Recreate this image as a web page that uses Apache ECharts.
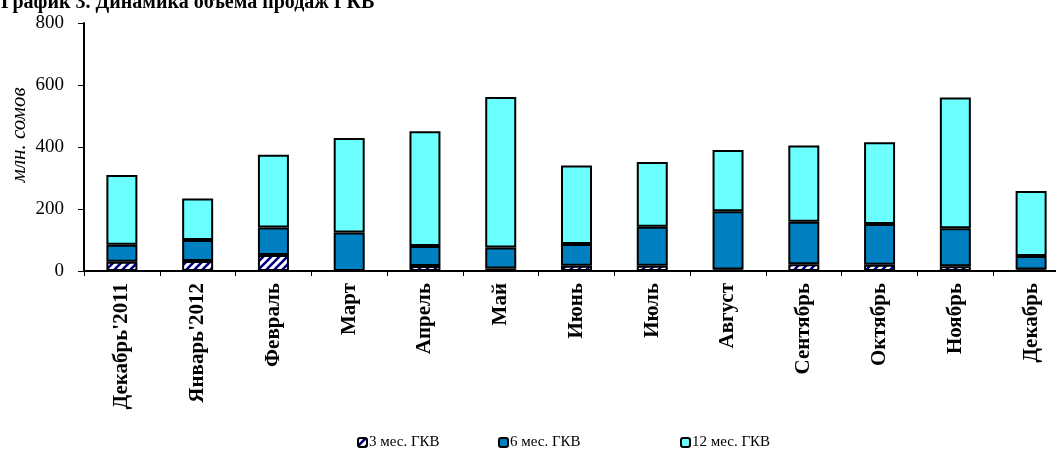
<!DOCTYPE html>
<html>
<head>
<meta charset="utf-8">
<script src="https://cdn.jsdelivr.net/npm/echarts@6/dist/echarts.min.js"></script>
<style>
  html, body { margin: 0; padding: 0; background: #fff; overflow: hidden; }
  #chart { width: 1075px; height: 449px; }
</style>
</head>
<body>
<div id="chart"></div>
<script>
'use strict';

// категории (месяцы)
var months = ['Декабрь\'2011', 'Январь\'2012', 'Февраль', 'Март', 'Апрель', 'Май',
    'Июнь', 'Июль', 'Август', 'Сентябрь', 'Октябрь', 'Ноябрь', 'Декабрь'];

// объемы продаж, млн. сомов
var gkv3 = [30, 32, 52, 0, 16, 8, 17, 17, 5, 22, 20, 15, 5];
var gkv6 = [55, 68, 88, 124, 65, 68, 70, 126, 188, 137, 132, 123, 43];
var gkv12 = [225, 134, 235, 305, 370, 485, 253, 209, 197, 246, 263, 422, 210];

var yTicks = [0, 200, 400, 600, 800];

// штриховка для 3 мес.
function hatch() {
    var c = document.createElement('canvas');
    c.width = 8;
    c.height = 8;
    var ctx = c.getContext('2d');
    ctx.fillStyle = '#ffffff';
    ctx.fillRect(0, 0, 8, 8);
    ctx.strokeStyle = '#000080';
    ctx.lineWidth = 2.6;
    ctx.beginPath();
    ctx.moveTo(-2, 10); ctx.lineTo(10, -2);
    ctx.moveTo(-6, 6); ctx.lineTo(6, -6);
    ctx.moveTo(2, 14); ctx.lineTo(14, 2);
    ctx.stroke();
    return c;
}

var font = '"Liberation Serif", "Times New Roman", serif';
var chart = echarts.init(document.getElementById('chart'));

var barStyle = function (color) {
    return { color: color, borderColor: '#000', borderWidth: 2 };
};

var legendBase = {
    orient: 'horizontal',
    top: 430,
    itemWidth: 9,
    itemHeight: 9,
    itemGap: 2,
    textStyle: { fontFamily: font, fontSize: 15, color: '#000', padding: [0, 0, 0, -3] }
};

var option = {
    animation: false,
    title: {
        text: 'График 3. Динамика объема продаж ГКВ',
        left: -4,
        top: -12,
        textStyle: { fontFamily: font, fontSize: 20, fontWeight: 'bold', color: '#000' }
    },
    grid: { left: 84, top: 23, width: 985, height: 248 },
    legend: [
        Object.assign({}, legendBase, { left: 352, data: ['3 мес. ГКВ'] }),
        Object.assign({}, legendBase, { left: 493, data: ['6 мес. ГКВ'] }),
        Object.assign({}, legendBase, { left: 675, data: ['12 мес. ГКВ'] })
    ],
    graphic: [{
        type: 'text',
        x: 19,
        y: 135,
        rotation: Math.PI / 2,
        style: {
            text: 'млн. сомов',
            fontFamily: font,
            fontStyle: 'italic',
            fontSize: 21,
            fill: '#000',
            align: 'center',
            verticalAlign: 'middle'
        }
    }],
    xAxis: {
        type: 'category',
        data: months,
        axisLine: { lineStyle: { color: '#000', width: 2 } },
        axisTick: { show: true, length: 5, lineStyle: { color: '#000' } },
        axisLabel: {
            rotate: 90,
            interval: 0,
            margin: 12,
            fontFamily: font,
            fontSize: 21,
            fontWeight: 'bold',
            color: '#000'
        }
    },
    yAxis: {
        type: 'value',
        min: yTicks[0],
        max: yTicks[yTicks.length - 1],
        interval: 200,
        splitLine: { show: false },
        axisLine: { show: true, lineStyle: { color: '#000', width: 2 } },
        axisTick: { show: true, length: 6, lineStyle: { color: '#000' } },
        axisLabel: { margin: 20, fontFamily: font, fontSize: 19, color: '#000' }
    },
    series: [
        {
            name: '3 мес. ГКВ', type: 'bar', stack: 'gkv', barWidth: 31,
            itemStyle: barStyle({ image: hatch(), repeat: 'repeat' }),
            data: gkv3
        },
        {
            name: '6 мес. ГКВ', type: 'bar', stack: 'gkv', barWidth: 31,
            itemStyle: barStyle('#0080C0'),
            data: gkv6
        },
        {
            name: '12 мес. ГКВ', type: 'bar', stack: 'gkv', barWidth: 31,
            itemStyle: barStyle('#6BFFFF'),
            data: gkv12
        }
    ]
};

chart.setOption(option);
</script>
</body>
</html>
